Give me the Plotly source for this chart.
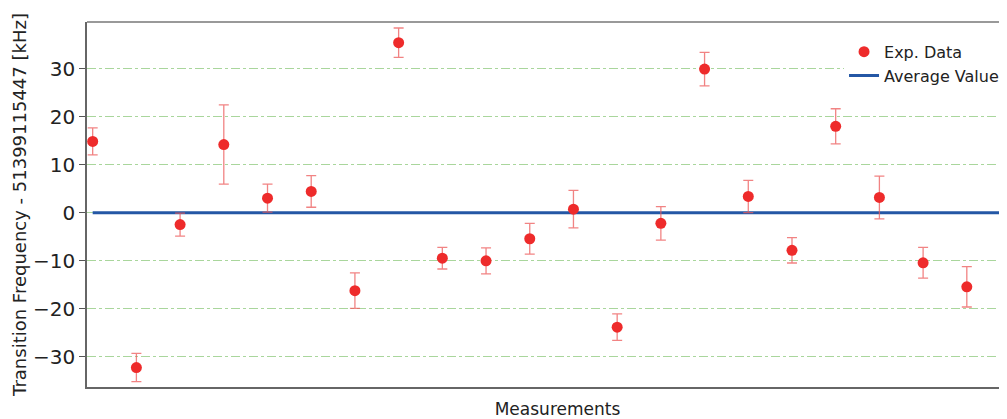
import plotly.graph_objects as go

measurement = list(range(1, 23))
freq_offset = [14.85, -32.2, -2.45, 14.2, 3.05, 4.45, -16.2, 35.4, -9.45, -10.0, -5.4,
               0.75, -23.8, -2.2, 29.9, 3.4, -7.8, 18.0, 3.2, -10.4, -15.4, 6.7]
freq_error = [2.8, 2.95, 2.4, 8.25, 2.9, 3.3, 3.7, 3.05, 2.25, 2.7, 3.2,
              3.9, 2.75, 3.5, 3.5, 3.35, 2.65, 3.65, 4.45, 3.2, 4.2, 3.9]
average_value = [0.0, 0.0]
average_x = [1, 22.4]
y_ticks = [-30, -20, -10, 0, 10, 20, 30]

FONT = "DejaVu Sans"

fig = go.Figure()
fig.add_trace(go.Scatter(
    x=average_x, y=average_value, mode="lines", name="Average Value",
    line=dict(color="#2457a5", width=3), showlegend=True,
))
fig.add_trace(go.Scatter(
    x=measurement, y=freq_offset, mode="markers", name="Exp. Data",
    marker=dict(color="#ee2b2b", size=11, line=dict(width=0)),
    error_y=dict(type="data", array=freq_error, visible=True,
                 color="rgba(236,90,90,0.75)", thickness=1.3, width=5),
))

# page body has an 8px margin; figure is offset accordingly.
# The plot area runs past the right edge of the window, as in the reference.
fig.update_layout(
    width=1020, height=411,
    margin=dict(l=79, r=0, t=14, b=32),
    paper_bgcolor="white", plot_bgcolor="white",
    font=dict(family=FONT, color="#222222", size=16),
    legend=dict(x=0.8045, y=0.965, xanchor="left", yanchor="top",
                bgcolor="white", borderwidth=0, traceorder="reversed",
                font=dict(size=16, family=FONT, color="#222222"),
                tracegroupgap=0, itemwidth=30),
    xaxis=dict(range=[0.87, 22.4], showticklabels=False, ticks="",
               showgrid=False, zeroline=False, showline=True,
               linecolor="#666666", linewidth=1.5, mirror=False,
               title=dict(text="Measurements", standoff=16,
                          font=dict(size=17, family=FONT, color="#222222"))),
    yaxis=dict(range=[-36.25, 39.7], tickvals=y_ticks,
               ticks="outside", ticklen=6, tickcolor="#555555",
               tickfont=dict(size=20, family=FONT, color="#222222"),
               showgrid=True, gridcolor="#a9d69c", gridwidth=1, griddash="dashdot",
               zeroline=False, showline=True, linecolor="#666666", linewidth=1.5,
               title=dict(text="Transition Frequency - 51399115447 [kHz]", standoff=2,
                          font=dict(size=18, family=FONT, color="#222222"))),
    shapes=[dict(type="line", xref="paper", yref="paper", x0=0, x1=1, y0=1, y1=1,
                 line=dict(color="#999999", width=2))],
)

fig.write_html("out.html")
